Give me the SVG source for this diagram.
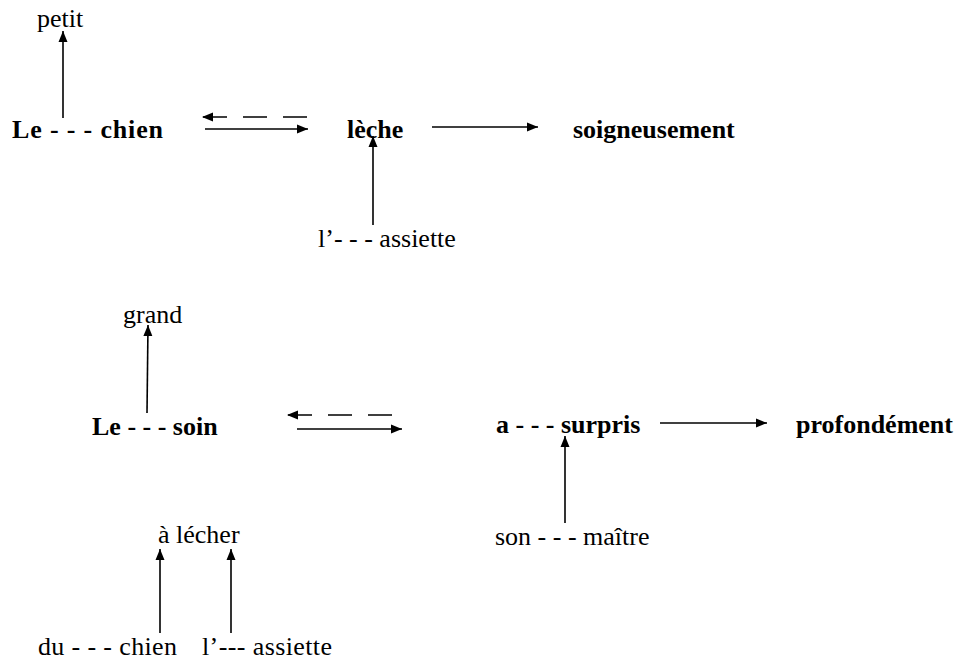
<svg xmlns="http://www.w3.org/2000/svg" width="962" height="661" viewBox="0 0 962 661">
  <style>
    text { font-family: "Liberation Serif", "Tinos", "Times New Roman", "DejaVu Serif", serif; font-size: 26px; fill: #000; }
    .b { font-weight: bold; }
    .ln { stroke: #000; stroke-width: 1.6; fill: none; marker-end: url(#head); }
    .dash { stroke-dasharray: 24 16; }
  </style>
  <defs>
    <marker id="head" markerUnits="userSpaceOnUse" markerWidth="12" markerHeight="10" refX="11" refY="5" orient="auto">
      <path d="M0,0.5 L11,5 L0,9.5 z" fill="#000"/>
    </marker>
  </defs>
  <rect width="962" height="661" fill="#fff"/>

  <!-- first sentence -->
  <g id="n-petit"><text x="37" y="27">petit</text></g>
  <g id="n-le-chien"><text class="b" x="12" y="138" textLength="151">Le - - - chien</text></g>
  <g id="n-leche"><text class="b" x="347" y="138">lèche</text></g>
  <g id="n-soigneusement"><text class="b" x="573" y="138">soigneusement</text></g>
  <g id="n-assiette1"><text x="318" y="247">l’- - - assiette</text></g>

  <!-- second sentence -->
  <g id="n-grand"><text x="123" y="323">grand</text></g>
  <g id="n-le-soin"><text class="b" x="92" y="435">Le - - - soin</text></g>
  <g id="n-surpris"><text class="b" x="496" y="433">a - - - surpris</text></g>
  <g id="n-profondement"><text class="b" x="796" y="433">profondément</text></g>
  <g id="n-maitre"><text x="495" y="545">son - - - maître</text></g>
  <g id="n-lecher"><text x="158" y="543">à lécher</text></g>
  <g id="n-du-chien"><text x="38" y="655" textLength="139">du - - - chien</text></g>
  <g id="n-assiette2"><text x="202" y="655" textLength="130">l’--- assiette</text></g>

  <g id="connectors">
    <line class="ln" x1="63" y1="118" x2="63" y2="31"/>
    <line class="ln dash" x1="307" y1="117" x2="202" y2="117"/>
    <line class="ln" x1="205" y1="129" x2="308" y2="129"/>
    <line class="ln" x1="373" y1="225" x2="373" y2="136"/>
    <line class="ln" x1="432" y1="127" x2="538" y2="127"/>

    <line class="ln" x1="147" y1="413" x2="148" y2="325"/>
    <line class="ln dash" x1="392" y1="415" x2="287" y2="415"/>
    <line class="ln" x1="297" y1="429" x2="402" y2="429"/>
    <line class="ln" x1="660" y1="423" x2="767" y2="423"/>
    <line class="ln" x1="565" y1="523" x2="565" y2="436"/>

    <line class="ln" x1="160" y1="633" x2="160" y2="549"/>
    <line class="ln" x1="231" y1="633" x2="231" y2="549"/>
  </g>
</svg>
